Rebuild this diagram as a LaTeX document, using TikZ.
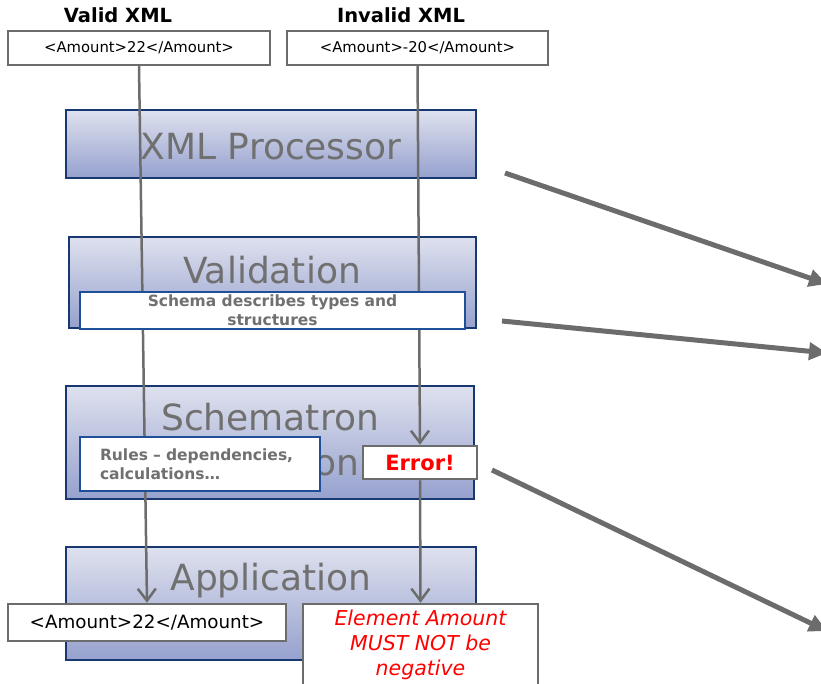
\documentclass[tikz,border=0pt]{standalone}
\usepackage{fontspec}
\setmainfont{DejaVu Sans}
\usetikzlibrary{arrows.meta}
\definecolor{boxtop}{RGB}{222,225,238}
\definecolor{boxbot}{RGB}{150,161,206}
\definecolor{navy}{RGB}{23,56,112}
\definecolor{noteblue}{RGB}{31,79,153}
\definecolor{linegray}{RGB}{108,108,108}
\definecolor{titlegray}{RGB}{112,112,112}

\begin{document}
\begin{tikzpicture}[x=1pt,y=-1pt,
        stage/.style={draw=navy,line width=2.5pt,top color=boxtop,bottom color=boxbot,inner sep=0pt},
        stagetext/.style={text=titlegray,font=\fontsize{36}{45}\selectfont,align=center,inner sep=0pt},
        xmlbox/.style={draw=linegray,line width=2.5pt,fill=white,inner sep=0pt},
        note/.style={draw=noteblue,line width=2.5pt,fill=white,inner sep=0pt,text=titlegray,
            font=\fontsize{15.5}{19}\selectfont\bfseries},
        flow/.style={draw=linegray,line width=2.5pt,-{Straight Barb[length=12pt,width=18pt]}},
        big/.style={draw=linegray,line width=5pt,-{Triangle[length=18pt,width=17pt]}},
        head/.style={font=\fontsize{19.5}{23}\selectfont\bfseries}]

    \useasboundingbox (0,0) rectangle (821,684);

    % processing stages
    \node[stage,minimum width=410pt,minimum height=68pt] (proc) at (271,144) {};
    \node[stage,minimum width=407pt,minimum height=91pt] (valid) at (272.5,282.5) {};
    \node[stage,minimum width=408pt,minimum height=113pt] (schtron) at (270,442.5) {};
    \node[stage,minimum width=410pt,minimum height=113pt] (app) at (271,603.5) {};

    \node[stagetext] (proctxt) at (271,147) {XML Processor};
    \node[stagetext] (validtxt) at (272,270) {Validation};
    \node[stagetext] (schtxt) at (270,440) {Schematron\\Validation};
    \node[stagetext] (apptxt) at (271,581) {Application};

    % input and output documents
    \node[head] (validhd) at (118,15) {Valid XML};
    \node[head] (invalidhd) at (401,15) {Invalid XML};
    \node[xmlbox,minimum width=262pt,minimum height=34pt,font=\fontsize{14.8}{18}\selectfont] (top1) at (139,48) {<Amount>22</Amount>};
    \node[xmlbox,minimum width=261pt,minimum height=34pt,font=\fontsize{14.8}{18}\selectfont] (top2) at (417.5,48) {<Amount>-20</Amount>};
    \node[xmlbox,minimum width=114pt,minimum height=33pt,text=red,font=\fontsize{21}{25}\selectfont\bfseries] (error) at (420,462.5) {Error!};
    \node[xmlbox,minimum width=278pt,minimum height=37pt,font=\fontsize{18.3}{22}\selectfont] (out1) at (147,622.5) {<Amount>22</Amount>};
    \node[xmlbox,minimum width=235pt,minimum height=82pt,align=center,text=red,
        font=\fontsize{20.5}{25}\selectfont\itshape] (out2) at (420.5,645) {Element Amount\\MUST NOT be\\negative};

    \path (top1.south) edge[flow] (out1.north);
    \path (top2.south) edge[flow] (error.north);
    \path (error.south) edge[flow] (out2.north);

    % notes
    \node[note,minimum width=385pt,minimum height=37pt,align=center] (schema) at (272.5,310.5) {Schema describes types and\\structures};
    \node[note,minimum width=240pt,minimum height=54pt,align=left,text width=200pt] (rules) at (200,464) {Rules -- dependencies,\\calculations\dots};

    % arrows leaving the picture
    \coordinate (a1) at (505,173);
    \coordinate (b1) at (827,284);
    \coordinate (a2) at (502,321);
    \coordinate (b2) at (827,353);
    \coordinate (a3) at (492,470);
    \coordinate (b3) at (827,631);
    \path (a1) edge[big] (b1);
    \path (a2) edge[big] (b2);
    \path (a3) edge[big] (b3);

\end{tikzpicture}
\end{document}
